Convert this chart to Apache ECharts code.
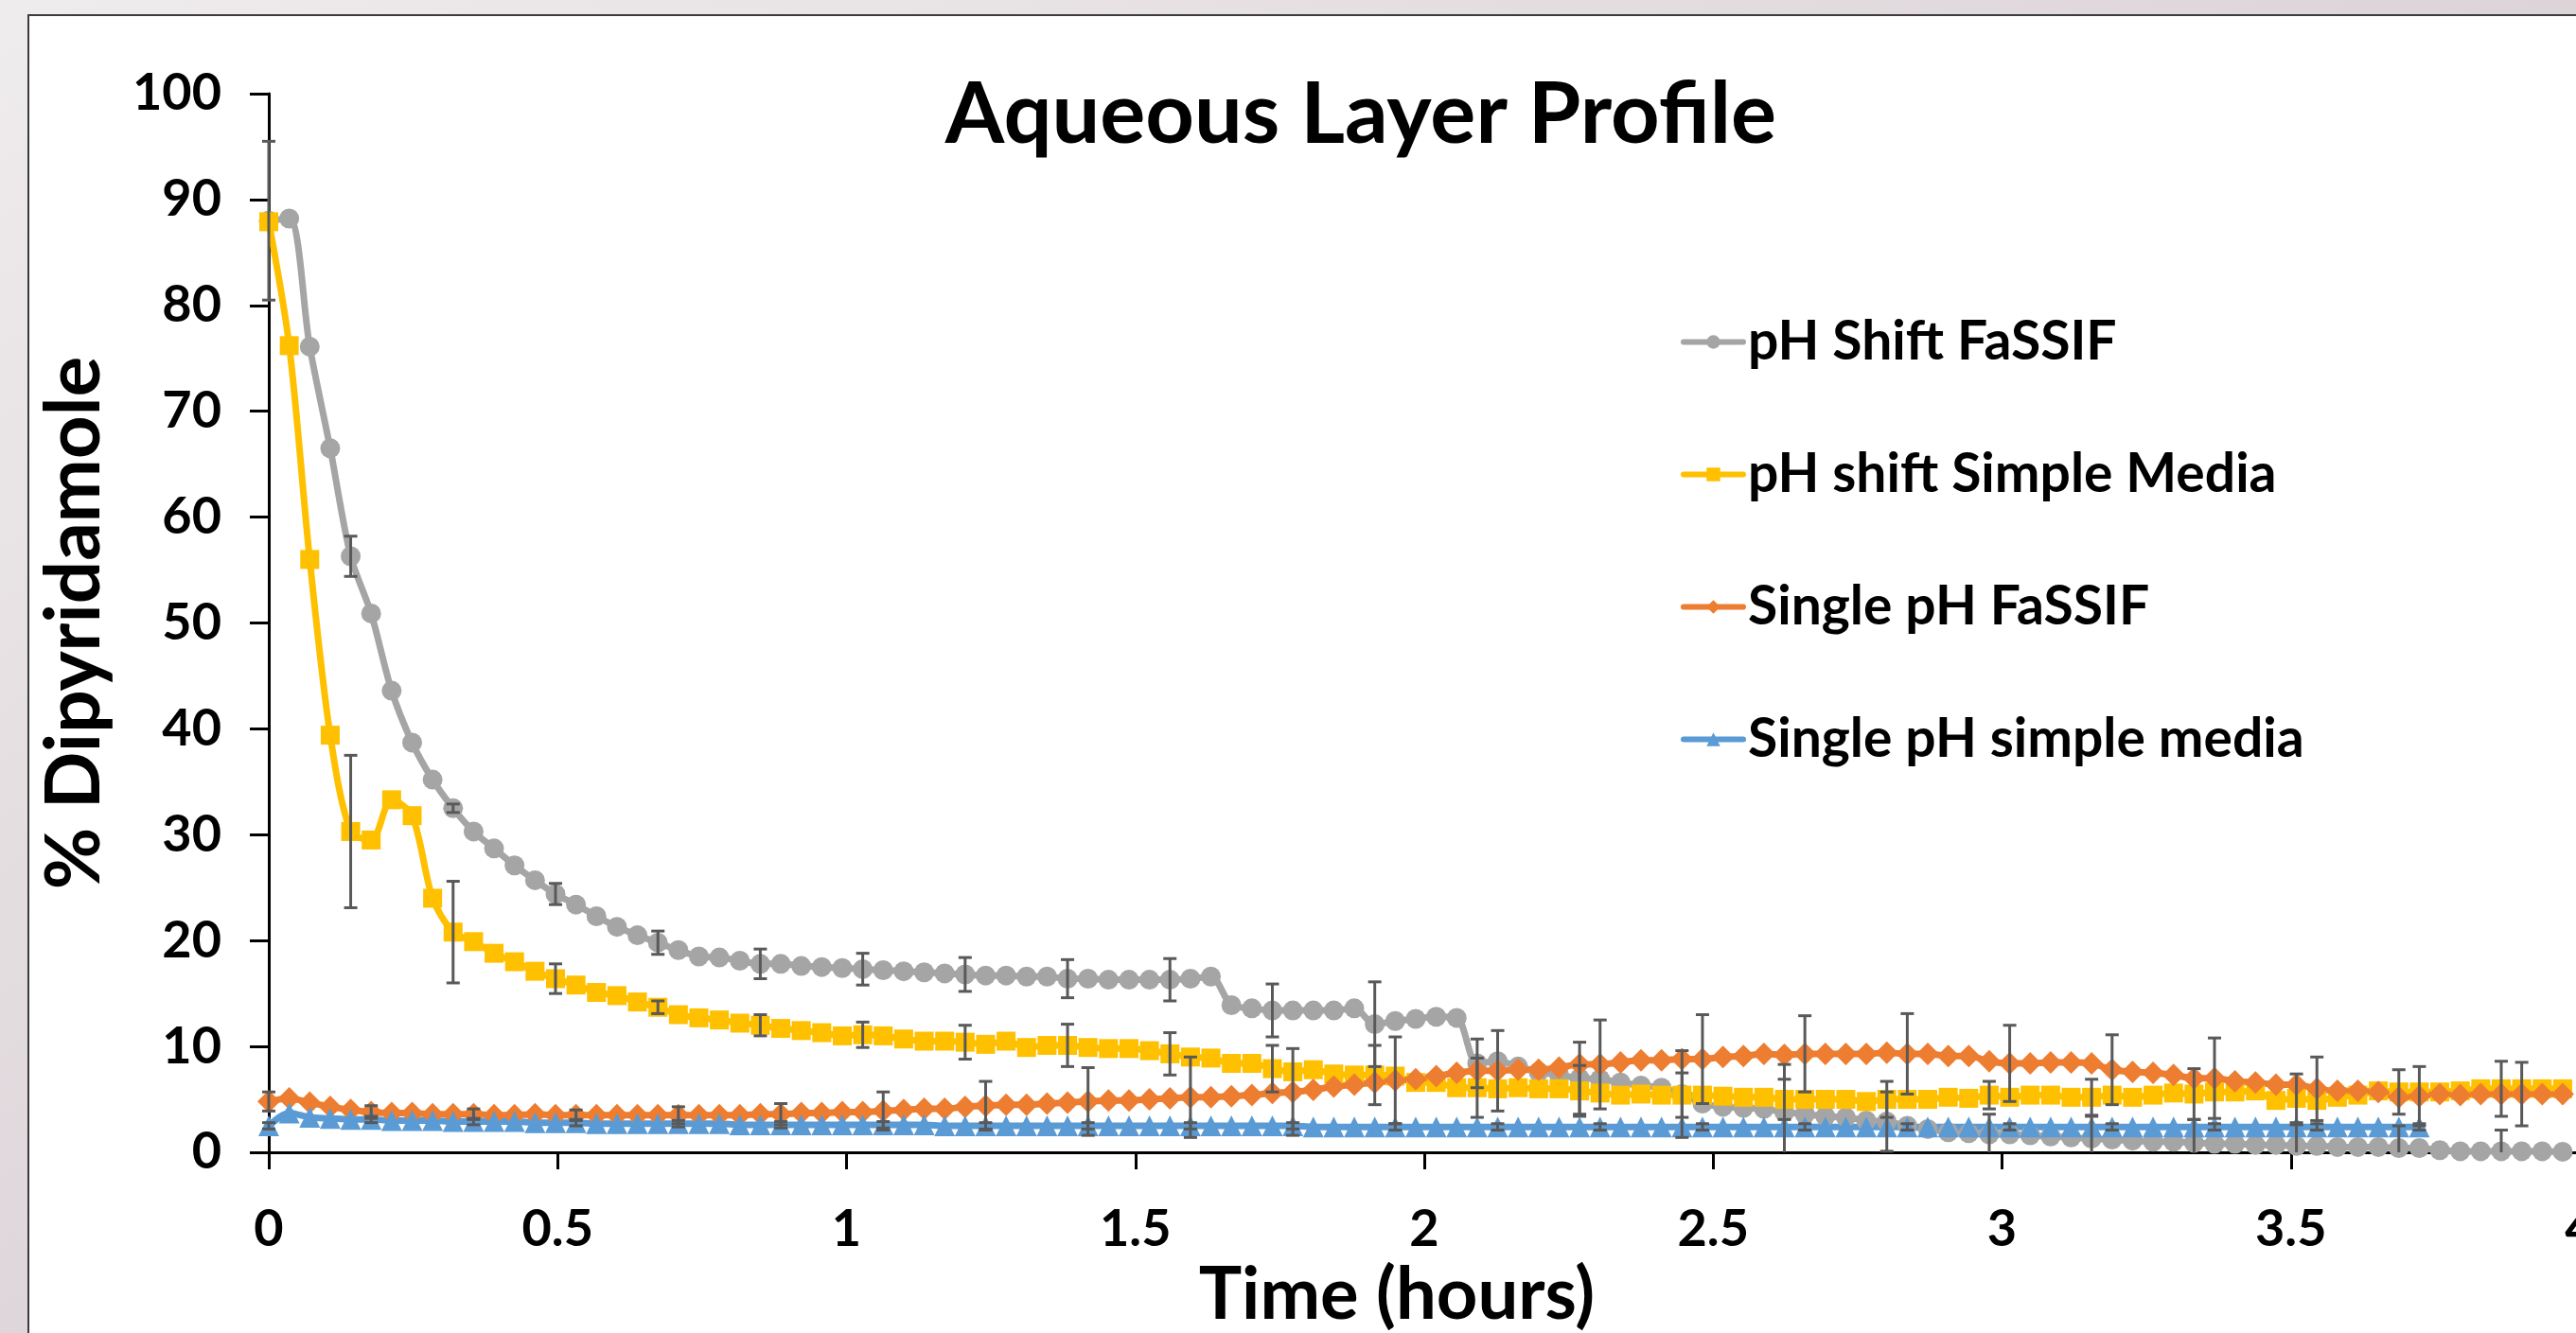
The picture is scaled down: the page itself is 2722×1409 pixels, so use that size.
<!DOCTYPE html>
<html lang="en">
<head>
<meta charset="UTF-8">
<title>Aqueous Layer Profile</title>
<script src="https://cdn.jsdelivr.net/npm/echarts@6/dist/echarts.min.js"></script>
<style>
  html, body { margin: 0; padding: 0; }
  #main { width: 2722px; height: 1409px; }
</style>
</head>
<body>
<div id="main"></div>
<script type="text/javascript">
"use strict";

// sampling interval (hours between consecutive points)
var stepHours = 0.03545;

var seriesNames = ['pH Shift FaSSIF', 'pH shift Simple Media', 'Single pH FaSSIF', 'Single pH simple media'];
var colors = ['#A5A5A5', '#FFC000', '#ED7D31', '#5B9BD5'];

var phShiftFassif = [
  88.0, 88.2, 76.1, 66.5, 56.3, 50.9, 43.6, 38.7, 35.2, 32.5,
  30.3, 28.7, 27.1, 25.7, 24.4, 23.4, 22.3, 21.3, 20.5, 19.8,
  19.1, 18.5, 18.4, 18.1, 17.8, 17.8, 17.6, 17.5, 17.4, 17.3,
  17.2, 17.1, 17.0, 16.9, 16.8, 16.7, 16.7, 16.6, 16.6, 16.4,
  16.4, 16.3, 16.3, 16.3, 16.3, 16.4, 16.6, 13.9, 13.6, 13.4,
  13.4, 13.4, 13.4, 13.6, 12.1, 12.4, 12.6, 12.8, 12.7, 8.4,
  8.6, 8.1, 7.6, 7.3, 7.0, 6.9, 6.6, 6.3, 6.1, 5.5,
  4.6, 4.3, 4.2, 4.1, 3.8, 3.6, 3.4, 3.3, 3.0, 2.9,
  2.5, 2.2, 1.9, 1.8, 1.7, 1.7, 1.6, 1.5, 1.4, 1.3,
  1.2, 1.1, 1.0, 1.0, 0.9, 0.8, 0.8, 0.7, 0.7, 0.6,
  0.6, 0.5, 0.5, 0.5, 0.4, 0.4, 0.2, 0.1, 0.1, 0.1,
  0.1, 0.1, 0.05
];

var phShiftSimple = [
  87.9, 76.2, 56.0, 39.4, 30.3, 29.5, 33.3, 31.8, 24.0, 20.8,
  19.9, 18.8, 18.0, 17.1, 16.4, 15.8, 15.1, 14.8, 14.2, 13.7,
  13.0, 12.7, 12.5, 12.2, 12.0, 11.7, 11.5, 11.3, 11.0, 11.1,
  11.0, 10.7, 10.5, 10.5, 10.4, 10.2, 10.5, 9.9, 10.1, 10.1,
  9.9, 9.8, 9.8, 9.6, 9.3, 9.0, 8.9, 8.4, 8.4, 7.9,
  7.6, 7.8, 7.4, 7.3, 7.3, 7.2, 6.6, 6.6, 6.1, 6.1,
  6.0, 6.1, 6.0, 6.0, 5.8, 5.6, 5.4, 5.5, 5.4, 5.4,
  5.4, 5.3, 5.2, 5.2, 5.0, 5.0, 5.0, 5.0, 4.8, 5.0,
  5.0, 5.0, 5.2, 5.1, 5.4, 5.2, 5.4, 5.4, 5.2, 5.2,
  5.4, 5.2, 5.4, 5.6, 5.5, 5.7, 5.7, 5.8, 4.9, 5.1,
  4.9, 5.2, 5.4, 5.8, 5.7, 5.7, 5.7, 5.8, 6.0, 6.0,
  6.0, 6.0, 6.0
];

var singleFassif = [
  4.8, 5.1, 4.7, 4.3, 4.0, 3.8, 3.7, 3.7, 3.6, 3.6,
  3.6, 3.5, 3.5, 3.6, 3.5, 3.5, 3.5, 3.5, 3.5, 3.5,
  3.5, 3.5, 3.5, 3.5, 3.6, 3.6, 3.7, 3.7, 3.8, 3.8,
  3.9, 4.0, 4.1, 4.1, 4.3, 4.4, 4.5, 4.5, 4.6, 4.7,
  4.8, 4.9, 4.9, 5.0, 5.1, 5.2, 5.2, 5.3, 5.4, 5.6,
  5.7, 5.9, 6.2, 6.4, 6.6, 6.8, 6.9, 7.2, 7.5, 7.7,
  7.7, 7.8, 7.8, 8.0, 8.3, 8.3, 8.5, 8.7, 8.7, 8.8,
  8.8, 9.0, 9.1, 9.3, 9.2, 9.3, 9.3, 9.3, 9.3, 9.4,
  9.3, 9.3, 9.1, 9.1, 8.6, 8.4, 8.4, 8.5, 8.5, 8.4,
  7.8, 7.6, 7.5, 7.3, 7.0, 7.0, 6.7, 6.6, 6.4, 6.4,
  6.0, 5.8, 5.8, 5.7, 5.2, 5.3, 5.5, 5.4, 5.5, 5.5,
  5.5, 5.5, 5.5
];

var singleSimple = [
  2.5, 3.7, 3.3, 3.2, 3.1, 3.1, 3.0, 3.0, 3.0, 2.9,
  2.9, 2.9, 2.9, 2.8, 2.8, 2.8, 2.7, 2.7, 2.7, 2.7,
  2.7, 2.7, 2.7, 2.6, 2.6, 2.6, 2.6, 2.6, 2.6, 2.6,
  2.6, 2.6, 2.6, 2.5, 2.5, 2.5, 2.5, 2.5, 2.5, 2.5,
  2.5, 2.5, 2.5, 2.5, 2.5, 2.5, 2.5, 2.5, 2.5, 2.5,
  2.5, 2.4, 2.4, 2.4, 2.4, 2.4, 2.4, 2.4, 2.4, 2.4,
  2.4, 2.4, 2.4, 2.4, 2.4, 2.4, 2.4, 2.4, 2.4, 2.4,
  2.4, 2.4, 2.4, 2.4, 2.4, 2.4, 2.4, 2.4, 2.4, 2.4,
  2.4, 2.4, 2.4, 2.4, 2.4, 2.4, 2.4, 2.4, 2.4, 2.4,
  2.4, 2.4, 2.4, 2.4, 2.4, 2.4, 2.4, 2.4, 2.4, 2.4,
  2.4, 2.4, 2.4, 2.4, 2.4, 2.4
];

// error bars: [point index, +/- value]
var errPhShiftFassif = [
  [0, 7.5], [4, 1.9], [9, 0.4], [14, 1.0], [19, 1.1], [24, 1.4], [29, 1.5], [34, 1.6],
  [39, 1.8], [44, 2.0], [49, 2.5], [54, 4.0], [59, 2.3], [64, 3.4], [69, 4.1], [74, 4.5],
  [79, 2.8], [84, 1.9], [89, 2.1], [94, 2.2], [99, 2.0], [104, 2.1], [109, 2.0]
];
var errPhShiftSimple = [
  [4, 7.2], [9, 4.8], [14, 1.4], [19, 0.6], [24, 1.0], [29, 1.2], [34, 1.6], [39, 2.0],
  [44, 2.0], [49, 2.2], [54, 2.8], [59, 2.8], [64, 2.4], [69, 2.1], [74, 1.9], [79, 1.7],
  [84, 1.3], [89, 1.7], [94, 2.4], [99, 2.3], [104, 2.1], [109, 2.6]
];
var errSingleFassif = [
  [0, 0.9], [5, 0.6], [10, 0.5], [15, 0.5], [20, 0.8], [25, 1.0], [30, 1.8], [35, 2.3],
  [40, 3.2], [45, 3.8], [50, 4.1], [55, 4.1], [60, 3.8], [65, 4.2], [70, 4.2], [75, 3.6],
  [80, 3.8], [85, 3.6], [90, 3.3], [95, 3.8], [100, 3.0], [105, 2.8], [110, 3.0]
];
var errSingleSimple = [
  [0, 0.3], [5, 0.3], [10, 0.3], [15, 0.3], [20, 0.3], [25, 0.3], [30, 0.3], [35, 0.3],
  [40, 0.3], [45, 0.3], [50, 0.3], [55, 0.3], [60, 0.3], [65, 0.3], [70, 0.3], [75, 0.3],
  [80, 0.3], [85, 0.3], [90, 0.3], [95, 0.3], [100, 0.3], [105, 0.3]
];

var allValues = [phShiftFassif, phShiftSimple, singleFassif, singleSimple];
var allErrors = [errPhShiftFassif, errPhShiftSimple, errSingleFassif, errSingleSimple];
var symbols = ['circle', 'rect', 'diamond', 'triangle'];
var symbolSizes = [21, 20, 24, 22];

var FONT = 'Lato';

function toPoints(values) {
    return values.map(function (v, i) { return [i * stepHours, v]; });
}

function toErrors(values, errs) {
    return errs.map(function (e) { return [e[0] * stepHours, values[e[0]], e[1]]; });
}

function renderErrorBar(params, api) {
    var x = api.value(0), y = api.value(1), e = api.value(2);
    var hi = api.coord([x, y + e]);
    var loVal = y - e;
    var clipped = loVal < 0;
    var lo = api.coord([x, Math.max(loVal, 0)]);
    var cap = 7;
    var style = { stroke: '#595959', lineWidth: 3 };
    var children = [
        { type: 'line', shape: { x1: hi[0], y1: hi[1], x2: lo[0], y2: lo[1] }, style: style },
        { type: 'line', shape: { x1: hi[0] - cap, y1: hi[1], x2: hi[0] + cap, y2: hi[1] }, style: style }
    ];
    if (!clipped) {
        children.push({ type: 'line', shape: { x1: lo[0] - cap, y1: lo[1], x2: lo[0] + cap, y2: lo[1] }, style: style });
    }
    return { type: 'group', children: children };
}

var series = [];
allValues.forEach(function (vals, i) {
    series.push({
        name: seriesNames[i],
        type: 'line',
        data: toPoints(vals),
        smooth: 0.3,
        symbol: symbols[i],
        symbolSize: symbolSizes[i],
        showAllSymbol: true,
        color: colors[i],
        lineStyle: { width: 7, color: colors[i], cap: 'round', join: 'round' },
        itemStyle: { color: colors[i] },
        z: 2
    });
});
allValues.forEach(function (vals, i) {
    series.push({
        type: 'custom',
        name: seriesNames[i] + ' err',
        data: toErrors(vals, allErrors[i]),
        renderItem: renderErrorBar,
        encode: { x: 0, y: 1 },
        silent: true,
        z: 3
    });
});

var myChart = echarts.init(document.getElementById('main'));
var option = {
    animation: false,
    backgroundColor: {
        type: 'linear', x: 0, y: 0, x2: 0.3, y2: 1,
        colorStops: [{ offset: 0, color: '#efeced' }, { offset: 1, color: '#d9cfd4' }]
    },
    graphic: [{
        type: 'rect',
        z: -10,
        shape: { x: 30, y: 16, width: 2800, height: 1500 },
        style: { fill: '#ffffff', stroke: '#3c3c3c', lineWidth: 2 }
    }],
    title: {
        text: 'Aqueous Layer Profile',
        left: 1433,
        textAlign: 'center',
        top: 72,
        textStyle: { fontFamily: FONT, fontWeight: 'bold', fontSize: 90, color: '#000' }
    },
    legend: {
        data: seriesNames,
        orient: 'vertical',
        left: 1771,
        top: 328,
        itemWidth: 63,
        itemHeight: 18,
        itemGap: 83,
        lineStyle: { width: 6 },
        textStyle: { fontFamily: FONT, fontWeight: 'bold', fontSize: 57, lineHeight: 56, color: '#000' }
    },
    grid: { left: 284, width: 2442, top: 99, height: 1119, containLabel: false, outerBoundsMode: 'none' },
    xAxis: {
        type: 'value',
        min: 0,
        max: 4,
        interval: 0.5,
        name: 'Time (hours)',
        nameLocation: 'middle',
        nameGap: 108,
        nameTextStyle: { fontFamily: FONT, fontWeight: 'bold', fontSize: 76, color: '#000', padding: [0, 58, 0, 0] },
        axisLine: { lineStyle: { color: '#000', width: 3 } },
        axisTick: { length: 18, lineStyle: { color: '#000', width: 3 } },
        axisLabel: { margin: 55, fontFamily: FONT, fontWeight: 'bold', fontSize: 54, color: '#000' },
        splitLine: { show: false }
    },
    yAxis: {
        type: 'value',
        min: 0,
        max: 100,
        interval: 10,
        name: '% Dipyridamole',
        nameLocation: 'middle',
        nameGap: 165,
        nameTextStyle: { fontFamily: FONT, fontWeight: 'bold', fontSize: 80, color: '#000' },
        axisLine: { show: true, lineStyle: { color: '#000', width: 3 } },
        axisTick: { show: true, length: 20, lineStyle: { color: '#000', width: 3 } },
        axisLabel: { margin: 50, fontFamily: FONT, fontWeight: 'bold', fontSize: 54, color: '#000' },
        splitLine: { show: false }
    },
    series: series
};
myChart.setOption(option);
</script>
</body>
</html>
